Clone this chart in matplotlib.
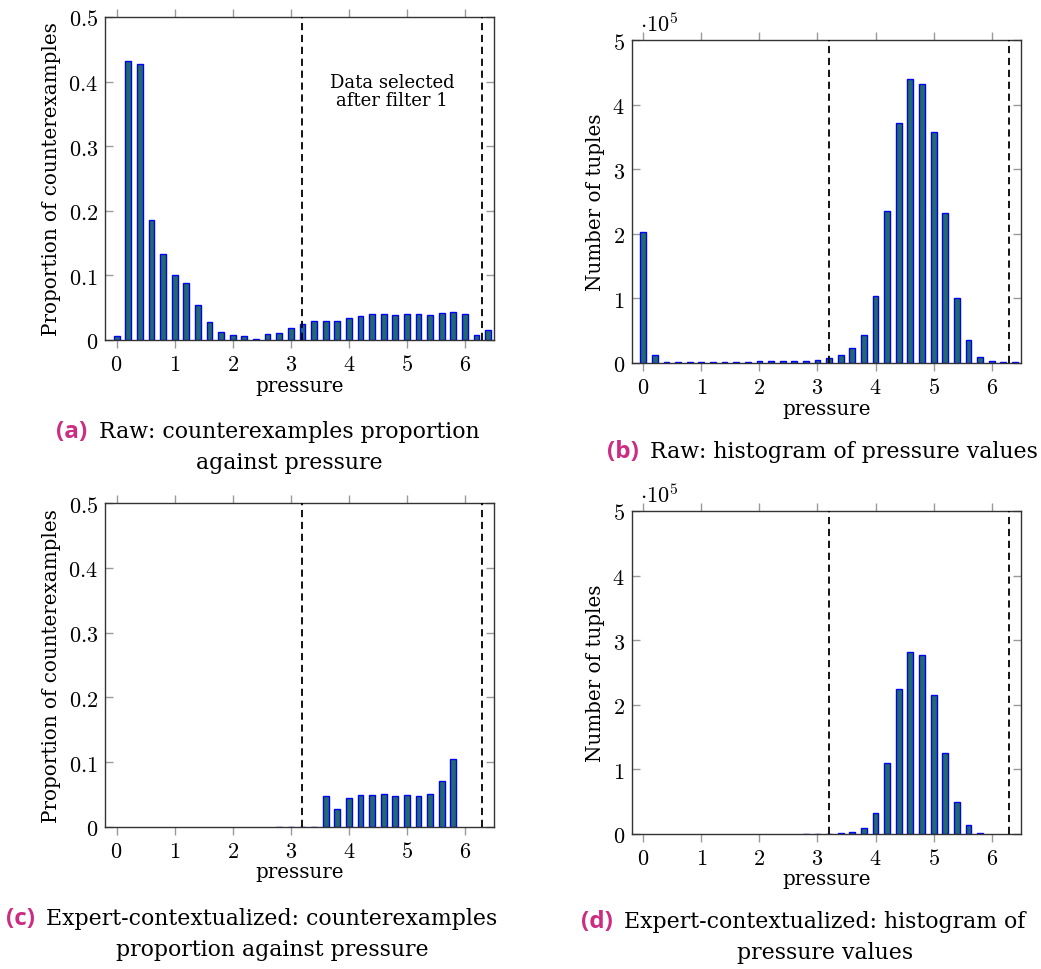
import matplotlib
matplotlib.use("Agg")
import matplotlib.pyplot as plt
from matplotlib.ticker import FixedLocator

plt.rcParams['mathtext.fontset'] = 'cm'
plt.rcParams['font.family'] = ['DejaVu Serif']

# ---------------- data ----------------
pressure_bins = [0.0, 0.2, 0.4, 0.6, 0.8, 1.0, 1.2, 1.4, 1.6, 1.8, 2.0, 2.2, 2.4, 2.6,
                 2.8, 3.0, 3.2, 3.4, 3.6, 3.8, 4.0, 4.2, 4.4, 4.6, 4.8, 5.0, 5.2, 5.4,
                 5.6, 5.8, 6.0, 6.2, 6.4]

raw_proportion = [0.006, 0.432, 0.427, 0.186, 0.133, 0.100, 0.088, 0.054, 0.028, 0.013,
                  0.008, 0.006, 0.002, 0.009, 0.011, 0.018, 0.024, 0.030, 0.030, 0.030,
                  0.034, 0.037, 0.040, 0.041, 0.039, 0.041, 0.040, 0.038, 0.042, 0.044,
                  0.041, 0.008, 0.016]

raw_counts = [202500, 12900, 2000, 2000, 1500, 1500, 1500, 1500, 1500, 2000,
              3600, 3600, 2600, 2600, 3100, 4100, 7200, 12900, 23200, 44000,
              103300, 235500, 372000, 440000, 432000, 358000, 232000, 100000, 35100, 8800,
              3600, 1500, 1000]

ctx_bins = [2.8, 3.0, 3.2, 3.4, 3.6, 3.8, 4.0, 4.2, 4.4, 4.6, 4.8, 5.0, 5.2, 5.4, 5.6, 5.8]

ctx_proportion = [0.0, 0.0, 0.0, 0.0, 0.047, 0.028, 0.045, 0.049, 0.049, 0.0505,
                  0.048, 0.0485, 0.048, 0.050, 0.071, 0.105]

ctx_counts = [300, 300, 300, 500, 2000, 9300, 31500, 109500, 224700, 282000,
              277000, 214900, 125500, 49000, 13900, 500]

filter_bounds = [3.2, 6.3]

x_ticks = [0, 1, 2, 3, 4, 5, 6]
prop_ticks = [0, 0.1, 0.2, 0.3, 0.4, 0.5]
prop_tick_labels = ['0', '0.1', '0.2', '0.3', '0.4', '0.5']
count_ticks = [0, 100000, 200000, 300000, 400000, 500000]
count_tick_labels = ['0', '1', '2', '3', '4', '5']

captions = [
    ("(a)", ["Raw: counterexamples proportion", "against pressure"]),
    ("(b)", ["Raw: histogram of pressure values"]),
    ("(c)", ["Expert-contextualized: counterexamples", "proportion against pressure"]),
    ("(d)", ["Expert-contextualized: histogram of", "pressure values"]),
]

# ---------------- style ----------------
W, H = 1041, 970
BAR_FACE = '#236b68'
BAR_EDGE = '#0000ff'
TICK_COL = '#9a9a9a'
CAP_COL = '#cc2c82'
TICK_FS = 16
LABEL_FS = 14.3
CAP_FS = 15.8
CAP_LAB_FS = 17.5

fig = plt.figure(figsize=(W / 100, H / 100), dpi=100)


def px_axes(left, top, right, bottom):
    return fig.add_axes([left / W, 1 - bottom / H, (right - left) / W, (bottom - top) / H])


def style_axes(ax, yticks, ylabels, ylim, ylabel):
    ax.set_xlim(-0.2, 6.5)
    ax.set_ylim(*ylim)
    ax.xaxis.set_major_locator(FixedLocator(x_ticks))
    ax.set_xticklabels([f'${t}$' for t in x_ticks])
    ax.yaxis.set_major_locator(FixedLocator(yticks))
    ax.set_yticklabels([f'${t}$' for t in ylabels])
    ax.tick_params(axis='x', which='major', direction='out', top=True, bottom=True,
                   labeltop=False, length=5.8, width=1.0, color=TICK_COL,
                   labelsize=TICK_FS, pad=3.5)
    ax.tick_params(axis='y', which='major', direction='in', left=True, right=True,
                   length=5.8, width=1.0, color=TICK_COL, labelsize=TICK_FS, pad=5)
    for sp in ax.spines.values():
        sp.set_linewidth(1.0)
        sp.set_color('#333333')
    ax.set_xlabel('pressure', fontsize=LABEL_FS, labelpad=0.5)
    ax.set_ylabel(ylabel, fontsize=LABEL_FS, labelpad=5)
    for xb in filter_bounds:
        ax.axvline(xb, color='black', lw=1.3, dashes=(4, 2.6), zorder=3)


def draw_bars(ax, xs, ys):
    ax.bar(xs, ys, width=0.1, color=BAR_FACE, edgecolor=BAR_EDGE, linewidth=1.0, zorder=2)


ax_a = px_axes(105, 18, 494, 341)
draw_bars(ax_a, pressure_bins, raw_proportion)
style_axes(ax_a, prop_ticks, prop_tick_labels, (0, 0.5), 'Proportion of counterexamples')
ax_a.text(4.74, 0.385, 'Data selected\nafter filter 1', ha='center', va='center',
          fontsize=13, linespacing=1.0)

ax_b = px_axes(631.7, 41.3, 1020.7, 364)
draw_bars(ax_b, pressure_bins, raw_counts)
style_axes(ax_b, count_ticks, count_tick_labels, (0, 500000), 'Number of tuples')
ax_b.text(-0.05, 500000 * 1.012, r'$\cdot 10^5$', ha='left', va='bottom',
          fontsize=TICK_FS)

ax_c = px_axes(105, 504.3, 494, 827.7)
draw_bars(ax_c, ctx_bins, ctx_proportion)
style_axes(ax_c, prop_ticks, prop_tick_labels, (0, 0.5), 'Proportion of counterexamples')

ax_d = px_axes(631.7, 512, 1020.7, 834.7)
draw_bars(ax_d, ctx_bins, ctx_counts)
style_axes(ax_d, count_ticks, count_tick_labels, (0, 500000), 'Number of tuples')
ax_d.text(-0.05, 500000 * 1.012, r'$\cdot 10^5$', ha='left', va='bottom',
          fontsize=TICK_FS)

# captions: centre x of the text block and y of the first line (pixels)
cap_pos = [(289, 432), (822, 452), (272, 919), (825, 922)]
GAP = 11
renderer = fig.canvas.get_renderer()
for (lab, lines), (cx, cy) in zip(captions, cap_pos):
    lab_t = fig.text(0, 1 - cy / H, lab, ha='right', va='center', fontsize=CAP_LAB_FS,
                     color=CAP_COL, fontweight='bold', family=['Open Sans', 'DejaVu Sans'])
    lab_w = lab_t.get_window_extent(renderer).width
    texts = []
    for i, ln in enumerate(lines):
        texts.append(fig.text(cx / W, 1 - (cy + 31 * i) / H, ln, ha='center',
                              va='center', fontsize=CAP_FS))
    w0 = texts[0].get_window_extent(renderer).width
    if len(lines) == 1:
        total = lab_w + GAP + w0
        left = cx - total / 2
        lab_t.set_x((left + lab_w) / W)
        texts[0].set_x((left + lab_w + GAP + w0 / 2) / W)
    else:
        lab_t.set_x((cx - w0 / 2 - GAP) / W)

fig.savefig('out.png', dpi=100)
